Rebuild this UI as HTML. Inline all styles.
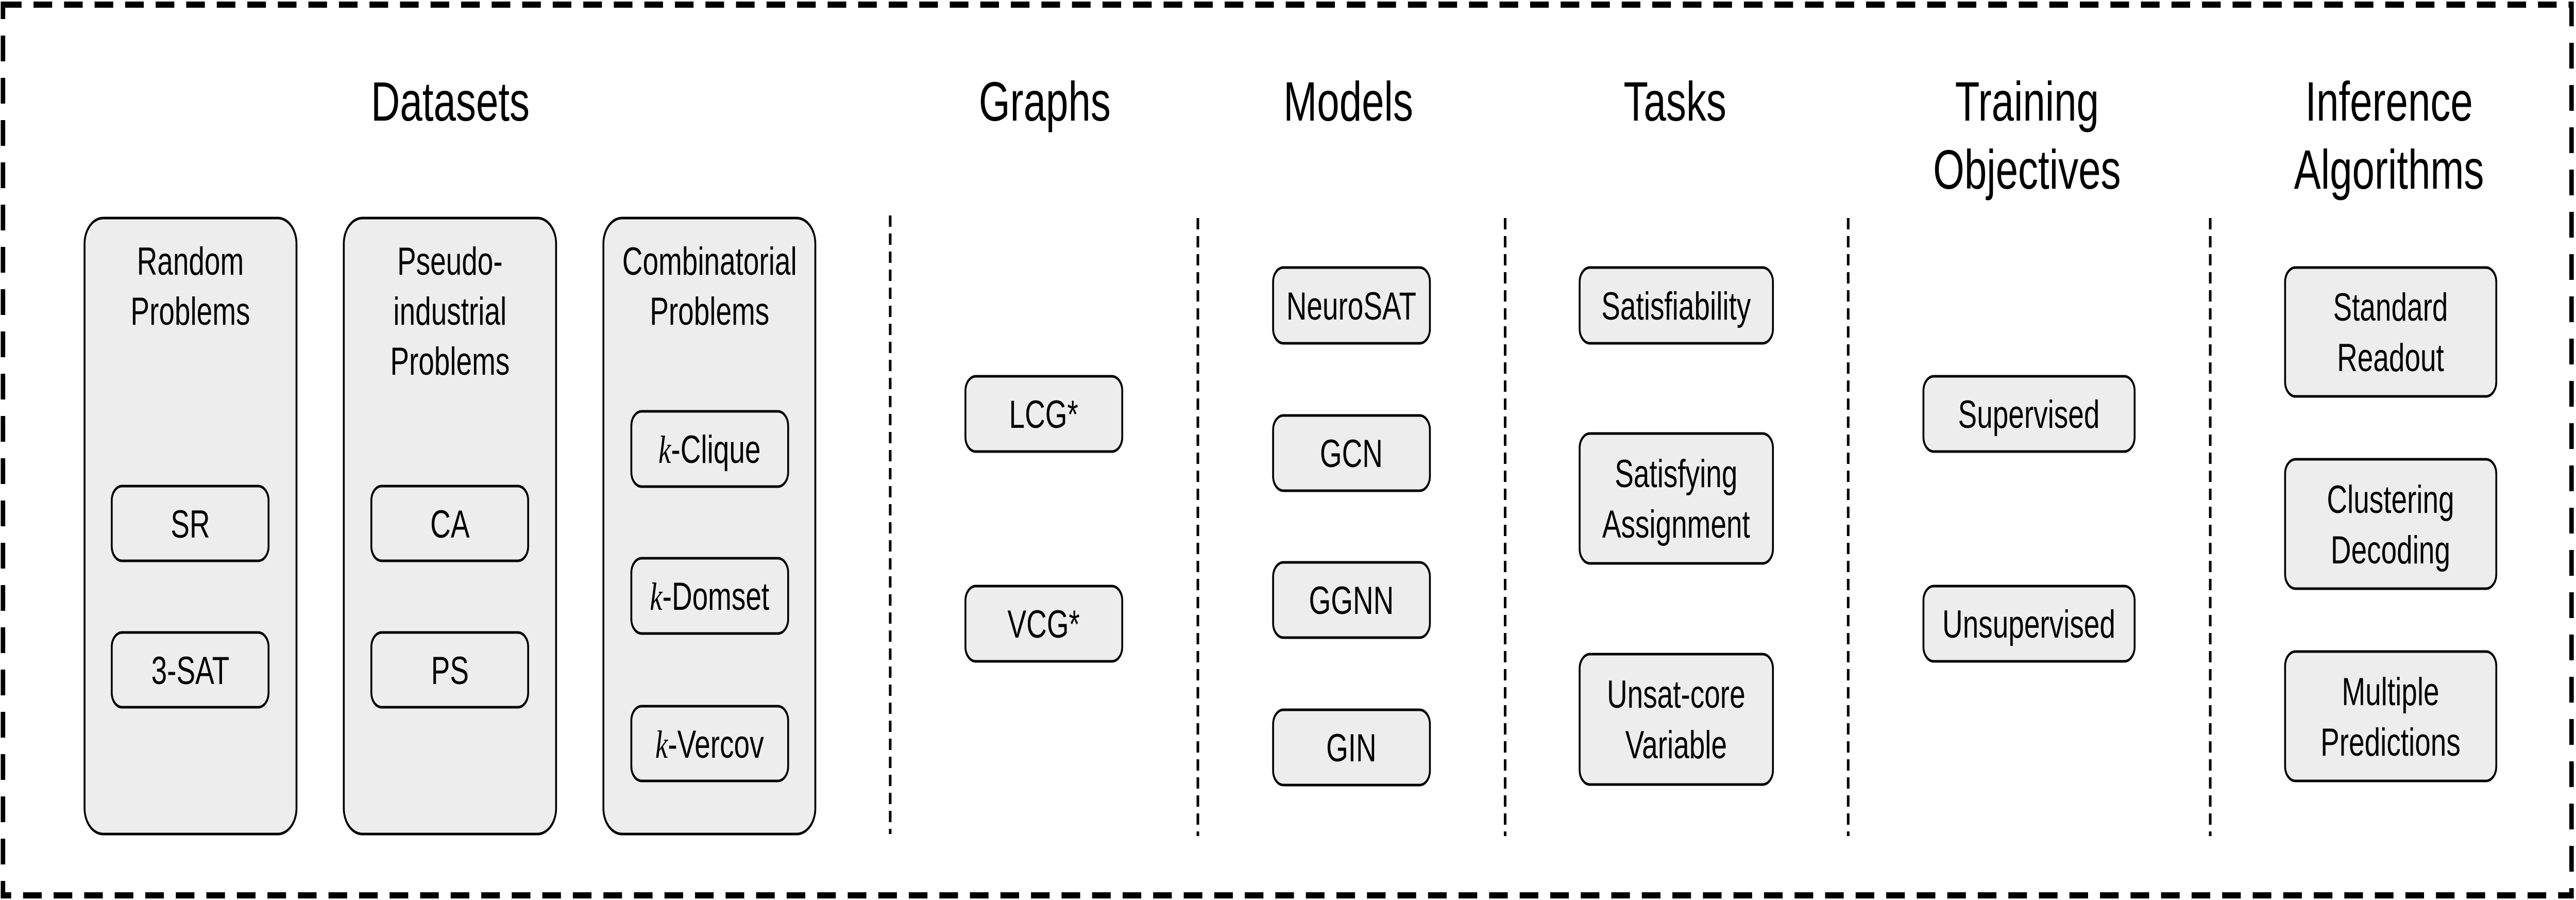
<!DOCTYPE html>
<html><head><meta charset="utf-8"><style>
html,body{margin:0;padding:0;background:#fff;width:100%;height:100%;overflow:hidden;}
svg{display:block;width:100vw;height:100vh;}
text{font-family:"Liberation Sans",sans-serif;fill:#000;}
.t{font-size:108px;text-anchor:middle;}
.b{font-size:76px;text-anchor:middle;}
.big{fill:#ededed;stroke:#000;stroke-width:5;}
.sm{fill:#ededed;stroke:#000;stroke-width:5;}
.dv{stroke:#000;stroke-width:7;stroke-dasharray:22 13;}
</style></head><body>
<svg viewBox="0 0 6916 1746" preserveAspectRatio="none" xmlns="http://www.w3.org/2000/svg">
<rect x="8" y="9" width="6896" height="1728" fill="none" stroke="#000" stroke-width="12" stroke-dasharray="50 32"/>
<text class="t" x="1209" y="234">Datasets</text>
<text class="t" x="2805" y="234">Graphs</text>
<text class="t" x="3620" y="234">Models</text>
<text class="t" x="4497" y="234">Tasks</text>
<text class="t" x="5442" y="234">Training</text>
<text class="t" x="5442" y="366">Objectives</text>
<text class="t" x="6414" y="234">Inference</text>
<text class="t" x="6414" y="366">Algorithms</text>
<line class="dv" x1="2390" y1="418" x2="2390" y2="1618"/>
<line class="dv" x1="3216" y1="423" x2="3216" y2="1622"/>
<line class="dv" x1="4041" y1="423" x2="4041" y2="1622"/>
<line class="dv" x1="4962" y1="423" x2="4962" y2="1622"/>
<line class="dv" x1="5934" y1="423" x2="5934" y2="1622"/>
<rect class="big" x="227" y="423" width="569" height="1195" rx="50"/>
<rect class="big" x="923" y="423" width="570" height="1195" rx="50"/>
<rect class="big" x="1620" y="423" width="569" height="1195" rx="50"/>
<text class="b" x="511" y="533">Random</text>
<text class="b" x="511" y="630">Problems</text>
<text class="b" x="1208" y="533">Pseudo-</text>
<text class="b" x="1208" y="630">industrial</text>
<text class="b" x="1208" y="727">Problems</text>
<text class="b" x="1905" y="533">Combinatorial</text>
<text class="b" x="1905" y="630">Problems</text>
<rect class="sm" x="300" y="943" width="421" height="145" rx="28"/>
<text class="b" x="511" y="1043">SR</text>
<rect class="sm" x="300" y="1227" width="421" height="145" rx="28"/>
<text class="b" x="511" y="1327">3-SAT</text>
<rect class="sm" x="997" y="943" width="421" height="145" rx="28"/>
<text class="b" x="1208" y="1043">CA</text>
<rect class="sm" x="997" y="1227" width="421" height="145" rx="28"/>
<text class="b" x="1208" y="1327">PS</text>
<rect class="sm" x="1695" y="798" width="421" height="146" rx="28"/>
<text class="b" x="1905" y="898"><tspan font-family="Liberation Serif,serif" font-style="italic">k</tspan>-Clique</text>
<rect class="sm" x="1695" y="1083" width="421" height="146" rx="28"/>
<text class="b" x="1905" y="1183"><tspan font-family="Liberation Serif,serif" font-style="italic">k</tspan>-Domset</text>
<rect class="sm" x="1695" y="1370" width="421" height="145" rx="28"/>
<text class="b" x="1905" y="1470"><tspan font-family="Liberation Serif,serif" font-style="italic">k</tspan>-Vercov</text>
<rect class="sm" x="2592" y="730" width="421" height="146" rx="28"/>
<text class="b" x="2802" y="830">LCG*</text>
<rect class="sm" x="2592" y="1137" width="421" height="146" rx="28"/>
<text class="b" x="2802" y="1237">VCG*</text>
<rect class="sm" x="3418" y="519" width="421" height="147" rx="28"/>
<text class="b" x="3628" y="620">NeuroSAT</text>
<rect class="sm" x="3418" y="806" width="421" height="146" rx="28"/>
<text class="b" x="3628" y="906">GCN</text>
<rect class="sm" x="3418" y="1091" width="421" height="146" rx="28"/>
<text class="b" x="3628" y="1191">GGNN</text>
<rect class="sm" x="3418" y="1377" width="421" height="146" rx="28"/>
<text class="b" x="3628" y="1477">GIN</text>
<rect class="sm" x="4241" y="519" width="519" height="147" rx="28"/>
<text class="b" x="4500" y="620">Satisfiability</text>
<rect class="sm" x="4241" y="841" width="519" height="252" rx="28"/>
<text class="b" x="4500" y="945">Satisfying</text>
<text class="b" x="4500" y="1043">Assignment</text>
<rect class="sm" x="4241" y="1269" width="519" height="253" rx="28"/>
<text class="b" x="4500" y="1373">Unsat-core</text>
<text class="b" x="4500" y="1471">Variable</text>
<rect class="sm" x="5164" y="730" width="567" height="146" rx="28"/>
<text class="b" x="5447" y="830">Supervised</text>
<rect class="sm" x="5164" y="1137" width="567" height="146" rx="28"/>
<text class="b" x="5447" y="1237">Unsupervised</text>
<rect class="sm" x="6135" y="519" width="567" height="250" rx="28"/>
<text class="b" x="6418" y="622">Standard</text>
<text class="b" x="6418" y="720">Readout</text>
<rect class="sm" x="6135" y="891" width="567" height="251" rx="28"/>
<text class="b" x="6418" y="995">Clustering</text>
<text class="b" x="6418" y="1093">Decoding</text>
<rect class="sm" x="6135" y="1264" width="567" height="251" rx="28"/>
<text class="b" x="6418" y="1368">Multiple</text>
<text class="b" x="6418" y="1466">Predictions</text>
</svg>
</body></html>
